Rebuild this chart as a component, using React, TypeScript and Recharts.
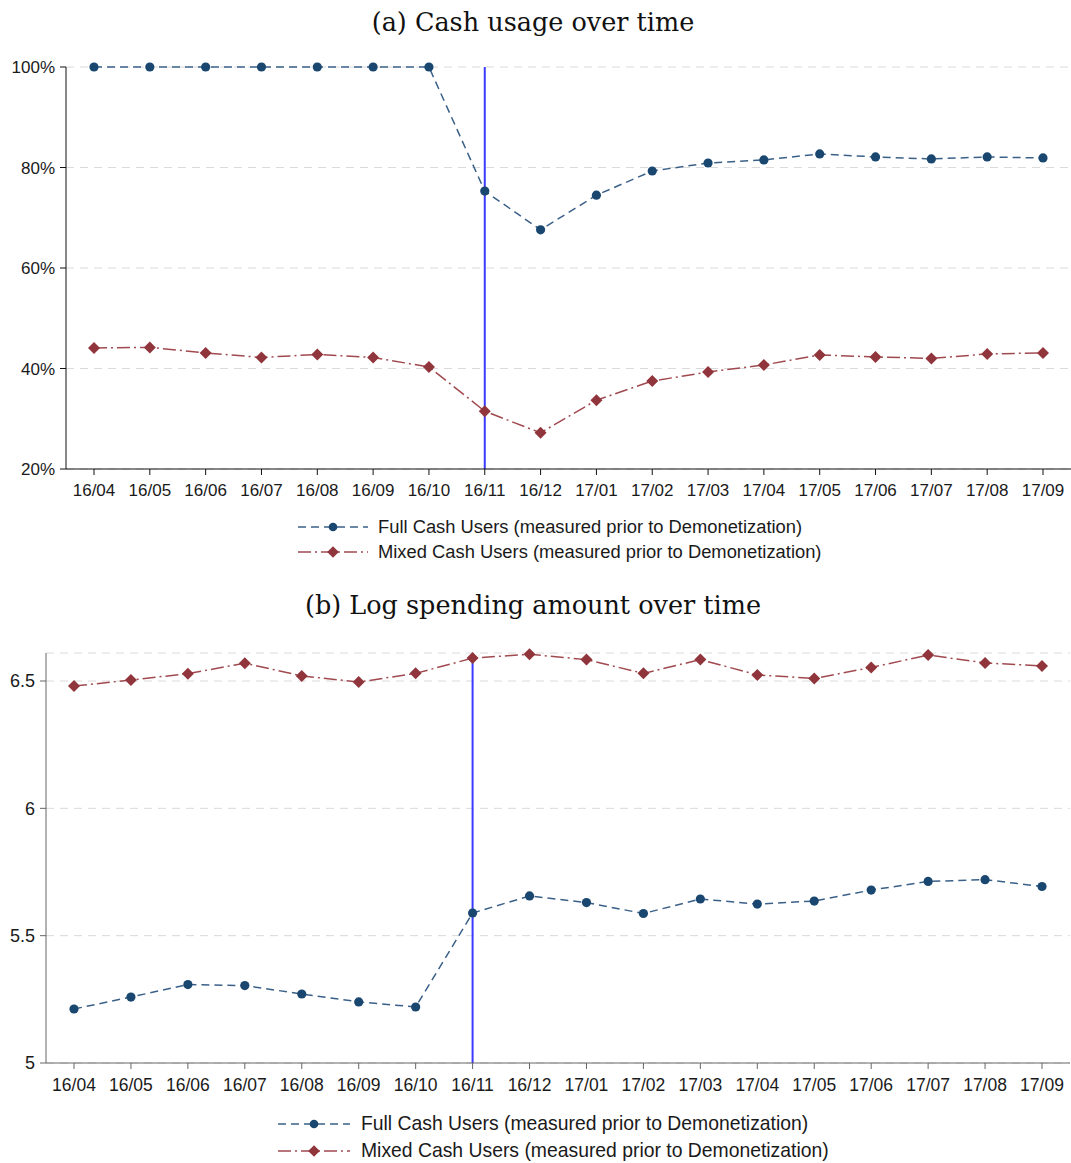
import React from 'react';
import { LineChart, Line, XAxis, YAxis, CartesianGrid, ReferenceLine, Legend } from 'recharts';

const months = ['16/04', '16/05', '16/06', '16/07', '16/08', '16/09', '16/10', '16/11', '16/12', '17/01', '17/02', '17/03', '17/04', '17/05', '17/06', '17/07', '17/08', '17/09'];
const cashFull = [100, 100, 100, 100, 100, 100, 100, 75.3, 67.6, 74.5, 79.3, 80.9, 81.5, 82.7, 82.1, 81.7, 82.1, 81.9];
const cashMixed = [44.1, 44.2, 43.1, 42.2, 42.8, 42.2, 40.3, 31.5, 27.2, 33.7, 37.5, 39.3, 40.7, 42.7, 42.3, 42.0, 42.9, 43.1];
const spendFull = [5.212, 5.259, 5.308, 5.304, 5.271, 5.24, 5.22, 5.589, 5.656, 5.63, 5.587, 5.644, 5.624, 5.636, 5.679, 5.713, 5.72, 5.693];
const spendMixed = [6.48, 6.504, 6.529, 6.57, 6.52, 6.496, 6.53, 6.59, 6.605, 6.584, 6.53, 6.584, 6.524, 6.51, 6.553, 6.602, 6.571, 6.559];
const cashTicks = [20, 40, 60, 80, 100];
const spendTicks = [5, 5.5, 6, 6.5];
const eventMonth = '16/11';
const seriesNames = ['Full Cash Users (measured prior to Demonetization)', 'Mixed Cash Users (measured prior to Demonetization)'];
const titles = ['(a) Cash usage over time', '(b) Log spending amount over time'];

const NAVY = '#1a476f';
const MAROON = '#90353b';
const NAVY_LINE = '#3a6088';
const MAROON_LINE = '#a04a50';
const FULL_DASH = '8 5';
const MIXED_DASH = '13 4 2 4';

const cashData = months.map((m, i) => ({ month: m, full: cashFull[i], mixed: cashMixed[i] }));
const spendData = months.map((m, i) => ({ month: m, full: spendFull[i], mixed: spendMixed[i] }));

const Circle = (props: any) => {
  const { cx, cy, index } = props;
  if (cx == null || cy == null) return <g key={`c${index}`} />;
  return <circle key={`c${index}`} cx={cx} cy={cy} r={4.6} fill={NAVY} />;
};

const Diamond = (props: any) => {
  const { cx, cy, index } = props;
  if (cx == null || cy == null) return <g key={`d${index}`} />;
  const s = 6;
  return <path key={`d${index}`} d={`M${cx},${cy - s}L${cx + s},${cy}L${cx},${cy + s}L${cx - s},${cy}Z`} fill={MAROON} />;
};

const makeLegend = (fontSize: number, rowH: number, sampleW: number, gap: number) => () => (
  <div style={{ display: 'flex', flexDirection: 'column', fontFamily: '"Liberation Sans", Arial, sans-serif', fontSize, color: '#1a1a1a' }}>
    {[0, 1].map((k) => (
      <div key={k} style={{ display: 'flex', alignItems: 'center', height: rowH, whiteSpace: 'nowrap' }}>
        <svg width={sampleW} height={14} style={{ marginRight: gap }}>
          <line x1={0} y1={7} x2={sampleW} y2={7} stroke={k === 0 ? NAVY_LINE : MAROON_LINE} strokeWidth={1.5} strokeDasharray={k === 0 ? FULL_DASH : MIXED_DASH} />
          {k === 0 ? (
            <circle cx={sampleW / 2} cy={7} r={4.3} fill={NAVY} />
          ) : (
            <path d={`M${sampleW / 2},1.2L${sampleW / 2 + 5.8},7L${sampleW / 2},12.8L${sampleW / 2 - 5.8},7Z`} fill={MAROON} />
          )}
        </svg>
        <span>{seriesNames[k]}</span>
      </div>
    ))}
  </div>
);

const tickStyle = { fontFamily: '"Liberation Sans", Arial, sans-serif', fill: '#1a1a1a' };

const titleStyle: React.CSSProperties = {
  position: 'absolute',
  left: 0,
  width: 1066,
  textAlign: 'center',
  fontFamily: '"DejaVu Serif", "Liberation Serif", serif',
  fontSize: 25.5,
  color: '#111',
  lineHeight: '32px',
};

export default function App() {
  return (
    <div style={{ position: 'absolute', left: 0, top: 0, width: 1071, height: 1163, background: '#fff' }}>
      <div style={{ ...titleStyle, top: 6 }}>{titles[0]}</div>
      <div style={{ position: 'absolute', left: 0, top: 0 }}>
        <LineChart width={1071} height={580} data={cashData} margin={{ top: 67, right: 0, left: 6, bottom: 81 }}>
          <CartesianGrid vertical={false} stroke="#dadada" strokeDasharray="8 6" />
          <XAxis dataKey="month" padding={{ left: 28, right: 28 }} height={30} tickSize={6} tickMargin={9} interval={0}
            axisLine={{ stroke: '#111' }} tickLine={{ stroke: '#111' }} tick={{ ...tickStyle, fontSize: 17 }} />
          <YAxis domain={[20, 100]} ticks={cashTicks} width={60} tickSize={6} tickMargin={5} interval={0}
            tickFormatter={(v: number) => `${v}%`} axisLine={{ stroke: '#111' }} tickLine={{ stroke: '#111' }} tick={{ ...tickStyle, fontSize: 17 }} />
          <ReferenceLine x={eventMonth} stroke="#3b3bff" strokeWidth={2} />
          <Line type="linear" dataKey="full" stroke={NAVY_LINE} strokeWidth={1.5} strokeDasharray={FULL_DASH} dot={Circle} activeDot={false} isAnimationActive={false} />
          <Line type="linear" dataKey="mixed" stroke={MAROON_LINE} strokeWidth={1.5} strokeDasharray={MIXED_DASH} dot={Diamond} activeDot={false} isAnimationActive={false} />
          <Legend layout="vertical" align="center" verticalAlign="middle" content={makeLegend(18.35, 25, 70, 10)}
            wrapperStyle={{ left: 298, top: 514, width: 'auto', height: 'auto' }} />
        </LineChart>
      </div>

      <div style={{ ...titleStyle, top: 589 }}>{titles[1]}</div>
      <div style={{ position: 'absolute', left: 0, top: 580 }}>
        <LineChart width={1071} height={583} data={spendData} margin={{ top: 73, right: 1, left: 6, bottom: 70 }}>
          <CartesianGrid vertical={false} stroke="#dadada" strokeDasharray="8 6" />
          <XAxis dataKey="month" padding={{ left: 28, right: 28 }} height={30} tickSize={6} tickMargin={10} interval={0}
            axisLine={{ stroke: '#666' }} tickLine={{ stroke: '#666' }} tick={{ ...tickStyle, fontSize: 17.5 }} />
          <YAxis domain={[5, 6.61]} ticks={spendTicks} width={40} tickSize={6} tickMargin={5} interval={0}
            tickFormatter={(v: number) => String(v)} axisLine={{ stroke: '#666' }} tickLine={{ stroke: '#666' }} tick={{ ...tickStyle, fontSize: 18 }} />
          <ReferenceLine x={eventMonth} stroke="#3b3bff" strokeWidth={2} />
          <Line type="linear" dataKey="full" stroke={NAVY_LINE} strokeWidth={1.5} strokeDasharray={FULL_DASH} dot={Circle} activeDot={false} isAnimationActive={false} />
          <Line type="linear" dataKey="mixed" stroke={MAROON_LINE} strokeWidth={1.5} strokeDasharray={MIXED_DASH} dot={Diamond} activeDot={false} isAnimationActive={false} />
          <Legend layout="vertical" align="center" verticalAlign="middle" content={makeLegend(19.35, 27, 72, 11)}
            wrapperStyle={{ left: 278, top: 530, width: 'auto', height: 'auto' }} />
        </LineChart>
      </div>
    </div>
  );
}
